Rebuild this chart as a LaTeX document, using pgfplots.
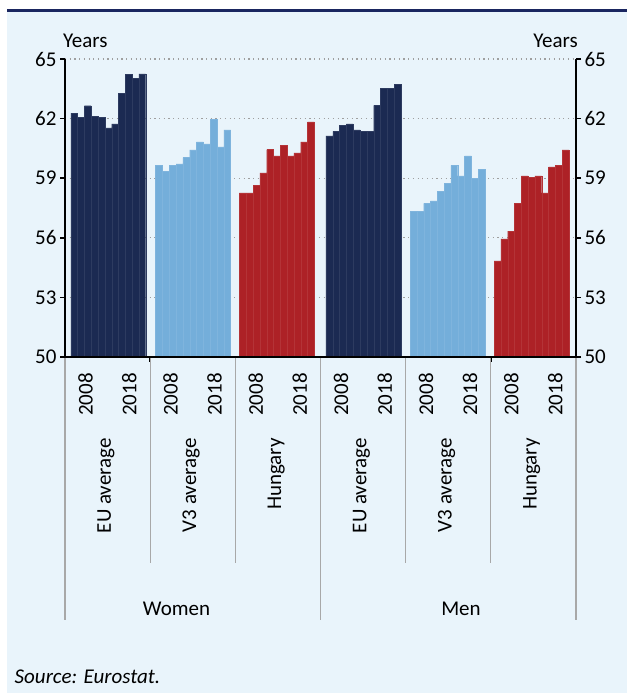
\documentclass[border=0pt]{standalone}
\usepackage{pgfplots}
\pgfplotsset{compat=1.18}
\usepackage{fontspec}
\setmainfont{Carlito}
\definecolor{navy}{HTML}{1B2A52}
\definecolor{lblue}{HTML}{74AEDA}
\definecolor{dred}{HTML}{AD2126}
\definecolor{bg}{HTML}{E9F4FB}
\definecolor{topline}{HTML}{1A2660}
\definecolor{sepgray}{HTML}{A8A8A8}
\newcommand\cf{\fontsize{21bp}{25bp}\selectfont}
\begin{document}
\begin{tikzpicture}
\path[use as bounding box] (0,0) rectangle (627bp,693bp);
\fill[bg] (7bp,0) rectangle (627bp,681bp);
\draw[topline, line width=3bp] (7bp,682.5bp) -- (627bp,682.5bp);
\begin{axis}[
  name=main, at={(65bp,336bp)}, anchor=south west, scale only axis,
  width=511bp, height=298bp,
  xmin=0, xmax=75, ymin=50, ymax=65,
  axis x line*=bottom, axis y line*=left,
  axis line style={-, line width=1.6bp, black},
  xtick={0,12.5,25,37.5,50,62.5,75}, xticklabel=\empty,
  ytick={50,53,56,59,62,65},
  tick align=outside, major tick length=5bp,
  tick style={black, line width=1.6bp},
  ymajorgrids,
  major grid style={gray!75, line width=1.1bp, dash pattern=on 1.2bp off 3.5bp},
  yticklabel style={font=\cf, /pgf/number format/assume math mode=true},
]
\addplot[ybar, bar width=1, bar shift=0pt, fill=navy, draw=navy!92!white, line width=0.25bp] coordinates {(1.35,62.27)(2.35,62.05)(3.35,62.65)(4.35,62.13)(5.35,62.05)(6.35,61.53)(7.35,61.73)(8.35,63.27)(9.35,64.23)(10.35,64.04)(11.35,64.25)};
\addplot[ybar, bar width=1, bar shift=0pt, fill=lblue, draw=lblue!92!white, line width=0.25bp] coordinates {(13.8,59.64)(14.8,59.34)(15.8,59.64)(16.8,59.72)(17.8,60.04)(18.8,60.42)(19.8,60.83)(20.8,60.73)(21.8,61.97)(22.8,60.58)(23.8,61.43)};
\addplot[ybar, bar width=1, bar shift=0pt, fill=dred, draw=dred!92!white, line width=0.25bp] coordinates {(26.1,58.26)(27.1,58.26)(28.1,58.65)(29.1,59.27)(30.1,60.44)(31.1,60.12)(32.1,60.66)(33.1,60.12)(34.1,60.27)(35.1,60.83)(36.1,61.83)};
\addplot[ybar, bar width=1, bar shift=0pt, fill=navy, draw=navy!92!white, line width=0.25bp] coordinates {(38.8,61.13)(39.8,61.36)(40.8,61.65)(41.8,61.73)(42.8,61.43)(43.8,61.36)(44.8,61.36)(45.8,62.67)(46.8,63.53)(47.8,63.53)(48.8,63.74)};
\addplot[ybar, bar width=1, bar shift=0pt, fill=lblue, draw=lblue!92!white, line width=0.25bp] coordinates {(51.14,57.32)(52.14,57.32)(53.14,57.73)(54.14,57.86)(55.14,58.33)(56.14,58.73)(57.14,59.64)(58.14,59.12)(59.14,60.12)(60.14,58.98)(61.14,59.44)};
\addplot[ybar, bar width=1, bar shift=0pt, fill=dred, draw=dred!92!white, line width=0.25bp] coordinates {(63.47,54.84)(64.47,55.95)(65.47,56.34)(66.47,57.73)(67.47,59.12)(68.47,59.05)(69.47,59.12)(70.47,58.26)(71.47,59.57)(72.47,59.65)(73.47,60.42)};
\pgfplotsinvokeforeach{0,...,6}{\coordinate (s#1) at (axis cs:{12.5*#1},50);}
\pgfplotsinvokeforeach{0,...,5}{
  \coordinate (ya#1) at (axis cs:{12.5*#1+3.0},50);
  \coordinate (yb#1) at (axis cs:{12.5*#1+9.45},50);
  \coordinate (gn#1) at (axis cs:{12.5*#1+6.0},50);
}
\end{axis}
\begin{axis}[
  at={(65bp,336bp)}, anchor=south west, scale only axis,
  width=511bp, height=298bp,
  xmin=0, xmax=75, ymin=50, ymax=65,
  axis x line=none, axis y line*=right,
  axis line style={-, line width=1.6bp, black},
  ytick={50,53,56,59,62,65},
  tick align=outside, major tick length=5bp,
  tick style={black, line width=1.6bp},
  yticklabel style={font=\cf, /pgf/number format/assume math mode=true},
]
\addplot[draw=none] coordinates {(0,50)(75,65)};
\end{axis}
\draw[black, line width=1.6bp] (s0) -- (s6);
\foreach \i in {1,2,4,5} {\draw[sepgray, line width=1.3bp] ([yshift=-1bp]s\i) -- ++(0,-205bp);}
\foreach \i in {0,3,6} {\draw[sepgray, line width=1.3bp] ([yshift=-1bp]s\i) -- ++(0,-262bp);}
\foreach \i in {0,...,5} {
  \node[rotate=90, anchor=east, inner sep=0pt, font=\cf] at ([yshift=-16bp]ya\i) {2008};
  \node[rotate=90, anchor=east, inner sep=0pt, font=\cf] at ([yshift=-16bp]yb\i) {2018};
}
\foreach \i/\n in {0/EU average,1/V3 average,2/Hungary,3/EU average,4/V3 average,5/Hungary} {
  \node[rotate=90, anchor=east, inner sep=0pt, font=\cf] at ([yshift=-81bp]gn\i) {\n};
}
\node[font=\cf, inner sep=0pt] at (176.5bp,84bp) {Women};
\node[font=\cf, inner sep=0pt] at (461bp,84bp) {Men};
\node[font=\cf, inner sep=0pt, anchor=west] at (63bp,652bp) {Years};
\node[font=\cf, inner sep=0pt, anchor=east] at (578bp,652bp) {Years};
\node[font=\cf\itshape, inner sep=0pt, anchor=west] at (14.5bp,16bp) {Source: Eurostat.};
\end{tikzpicture}
\end{document}
